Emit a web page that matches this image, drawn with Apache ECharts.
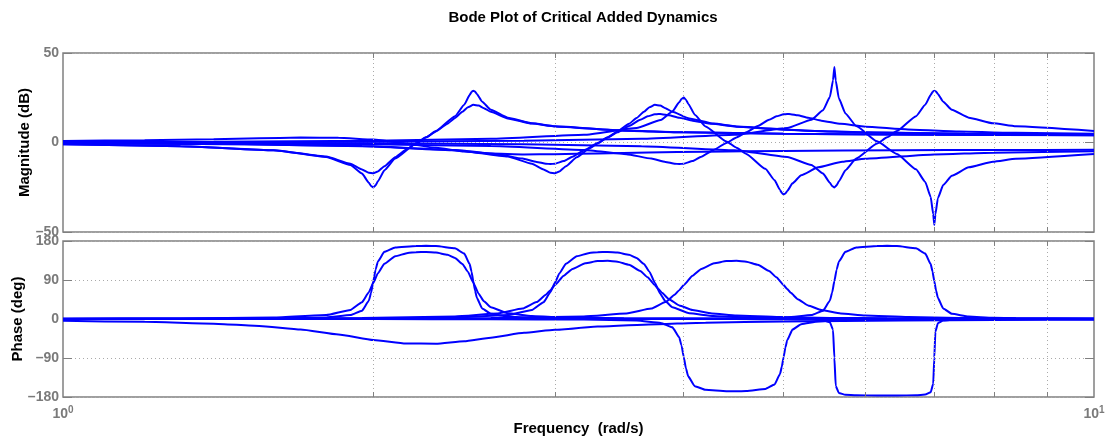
<!DOCTYPE html>
<html><head><meta charset="utf-8">
<script src="https://cdn.jsdelivr.net/npm/echarts@6/dist/echarts.min.js"></script>
<style>html,body{margin:0;padding:0;background:#fff}#c{width:1107px;height:443px}</style>
</head><body><div id="c"></div>
<script>
// ---- data (frequency in rad/s, magnitude in dB, phase in deg) ----
const f1 = [1,1.3,1.6,1.8,1.9,1.95,1.98,1.99,2,2.01,2.02,2.05,2.1,2.2,2.25,2.3,2.4,2.45,2.48,2.49,2.5,2.51,2.52,2.55,2.6,2.7,2.85,3,3.5,4,5,6.5,8,10];
const m1 = [-0.99,-2.03,-4.29,-8.07,-12.57,-17.36,-22.46,-24.33,-25.1,-23.94,-21.71,-15.56,-8.99,-0.58,2.88,6.38,14.73,21.08,26.5,28.18,28.98,28.49,27.15,22.82,18.27,13.88,10.73,9.07,6.64,5.68,4.86,4.4,4.21,4.08];
const p1 = [0.2,0.5,1.3,3.7,9,19.3,42.4,60.9,87.5,113.9,132.4,155.1,165.2,168.6,168.8,168.2,163.1,150.9,126.7,109.7,87.5,65.7,48.9,24.4,12,5.6,2.8,1.7,0.8,0.6,0.3,0.2,0.1,0.1];

const f2 = [1,1.3,1.6,1.8,1.9,1.95,1.98,2,2.02,2.05,2.1,2.16,2.2,2.25,2.3,2.36,2.4,2.44,2.47,2.5,2.53,2.56,2.6,2.7,2.85,3,3.5,4,5,6.67,10];
const m2 = [-0.99,-2.03,-4.26,-7.87,-11.85,-15.07,-16.94,-17.2,-16.17,-13.22,-8.24,-3.34,-0.5,2.87,6.21,10.48,13.68,17.18,19.68,21.08,20.64,19.18,17.11,13.47,10.59,9,6.62,5.67,4.86,4.38,4.08];
const p2 = [0.55,1.2,3.2,9.05,20.8,38.9,62,83.7,105.1,127.5,144.8,152.3,154.3,154.7,153.2,148,140.7,127.1,109.1,83.7,58.5,40.8,27.1,13.3,6.8,4.4,1.7,1,0.55,0.35,0.25];

const f3 = [1,1.2,1.4,1.55,1.7,1.85,2,2.15,2.3,2.45,2.6,2.8,3,3.3,3.7,4.2,5,6.5,8,10];
const m3 = [0.84,1.3,1.87,2.36,2.75,2.68,1.61,-0.5,-2.98,-5,-6.18,-6.68,-6.57,-6.13,-5.6,-5.14,-4.72,-4.34,-4.17,-4.06];
const p3 = [-4.2,-6.6,-10.7,-15.9,-24,-35.5,-48.4,-56.5,-57,-51.4,-43,-32,-25,-17.5,-12.5,-8.5,-5.5,-3.2,-2.2,-1.5];

const f4 = [1,1.5,1.95,2.4,2.7,2.85,2.925,2.97,3,3.03,3.075,3.15,3.24,3.3,3.375,3.45,3.54,3.6,3.66,3.705,3.75,3.795,3.84,3.9,4.05,4.275,4.5,5.25,6,7.5,10];
const m4 = [-0.38,-0.99,-2.03,-4.26,-7.87,-11.85,-15.07,-16.94,-17.2,-16.17,-13.22,-8.24,-3.34,-0.5,2.87,6.21,10.48,13.68,17.18,19.68,21.08,20.64,19.18,17.11,13.47,10.59,9,6.62,5.67,4.86,4.38];
const p4 = [0.25,0.55,1.2,3.2,9.05,20.8,38.9,62,83.7,105.1,127.5,144.8,152.3,154.3,154.7,153.2,148,140.7,127.1,109.1,83.7,58.5,40.8,27.1,13.3,6.8,4.4,1.7,1,0.55,0.35];

const f5 = [1,1.5,1.95,2.4,2.64,2.79,2.88,2.94,2.97,3,3.06,3.12,3.21,3.3,3.375,3.45,3.54,3.63,3.69,3.75,3.78,3.81,3.87,3.96,4.08,4.26,4.5,4.95,5.55,6.3,7.5,10];
const m5 = [-0.38,-0.98,-2,-4.16,-6.52,-8.97,-10.84,-11.85,-12.03,-11.85,-10.36,-7.94,-3.99,-0.22,2.76,5.71,9.26,12.71,14.61,15.73,15.9,15.84,15.24,13.89,12.22,10.41,8.84,7.23,6.14,5.41,4.85,4.38];
const p5 = [0.5,1,2.2,6,12.7,24,39,55.9,66.6,78.2,99.9,115.6,128.5,133.6,134.3,132.1,125,110.9,96.2,78.2,69,60.3,45.8,31.3,20.5,12.7,7.9,4.35,2.56,1.7,1,0.58];

const f6 = [1,1.333,2,2.6,3.2,3.52,3.72,3.84,3.92,3.96,4,4.08,4.16,4.28,4.4,4.5,4.6,4.72,4.84,4.92,5,5.04,5.08,5.16,5.28,5.44,5.68,6,6.6,7.4,8.4,10];
const m6 = [-0.21,-0.38,-0.98,-2,-4.16,-6.52,-8.97,-10.84,-11.85,-12.03,-11.85,-10.36,-7.94,-3.99,-0.22,2.76,5.71,9.26,12.71,14.61,15.73,15.9,15.84,15.24,13.89,12.22,10.41,8.84,7.23,6.14,5.41,4.85];
const p6 = [0.3,0.5,1,2.2,6,12.7,24,39,55.9,66.6,78.2,99.9,115.6,128.5,133.6,134.3,132.1,125,110.9,96.2,78.2,69,60.3,45.8,31.3,20.5,12.7,7.9,4.35,2.56,1.7,1];

const f7 = [1,1.4,2,2.6,3.2,3.6,3.8,3.9,3.96,3.98,4,4.02,4.04,4.1,4.2,4.4,4.5,4.6,4.8,4.9,4.96,4.98,5,5.02,5.04,5.1,5.2,5.4,5.7,6,7,8,10];
const m7 = [0.21,0.43,0.99,2.03,4.29,8.07,12.57,17.36,22.46,24.33,25.1,23.94,21.71,15.56,8.99,0.58,-2.88,-6.38,-14.73,-21.08,-26.5,-28.18,-28.98,-28.49,-27.15,-22.82,-18.27,-13.88,-10.73,-9.07,-6.64,-5.68,-4.86];
const p7 = [-0.1,-0.15,-0.2,-0.5,-1.3,-3.7,-9,-19.3,-42.4,-60.9,-87.5,-113.9,-132.4,-155.1,-163.5,-166.5,-166.8,-166.3,-161.5,-150.9,-126.7,-109.7,-87.5,-65.7,-48.9,-24.4,-12,-5.6,-2.8,-1.7,-0.8,-0.6,-0.3];

const f8 = [1,1.4,1.96,2.8,3.64,4.48,5.04,5.32,5.46,5.544,5.572,5.6,5.628,5.656,5.74,5.88,6.16,6.3,6.44,6.72,6.86,6.944,6.972,7,7.028,7.056,7.14,7.28,7.56,7.98,8.4,10];
const m8 = [-0.1,-0.21,-0.43,-0.99,-2.03,-4.29,-8.07,-12.57,-17.36,-22.46,-24.33,-25.1,-23.94,-21.71,-15.56,-8.99,-0.58,2.88,6.38,14.73,21.08,26.5,28.18,28.98,28.49,27.15,22.82,18.27,13.88,10.73,9.07,6.46];
const p8 = [0.05,0.1,0.15,0.2,0.5,1.3,3.7,9,19.3,42.4,60.9,87.5,113.9,132.4,155.1,165.2,168.6,168.8,168.2,163.1,150.9,126.7,109.7,87.5,65.7,48.9,24.4,12,5.6,2.8,1.7,0.8];

const f9 = [1,1.4,1.96,2.8,3.64,4.48,5.04,5.32,5.46,5.544,5.583,5.6,5.617,5.656,5.74,5.88,6.16,6.44,6.72,6.86,6.944,6.983,7,7.017,7.056,7.14,7.28,7.56,7.98,8.4,10];
const m9 = [0.1,0.21,0.43,0.99,2.03,4.29,8.07,12.73,17.98,25.37,34.82,42.2,34.59,24.66,16.22,9.17,0.63,-6.44,-14.98,-22.02,-30.43,-40.01,-46.06,-40.21,-31.13,-23.8,-18.55,-13.88,-10.73,-9.07,-6.46];
const p9 = [0,-0.05,-0.1,-0.1,-0.15,-0.2,-0.6,-1.3,-2.8,-7.6,-24.6,-89.6,-154.6,-170.5,-175,-176,-176.5,-176.5,-176,-174.5,-169,-149.4,-89.6,-29.9,-9.6,-3.7,-1.7,-0.8,-0.5,-0.3,-0.1];

const gridFreqs = [2,3,4,5,6,7,8,9];
const magTicks = [-50, 0, 50];
const phaseTicks = [-180, -90, 0, 90, 180];
const decadeLabels = {1: '0', 10: '1'};

const titleText = 'Bode Plot of Critical Added Dynamics';
const magName = 'Magnitude (dB)';
const phaseName = 'Phase (deg)';
const freqName = 'Frequency  (rad/s)';

// ---- chart ----
const FONT = '"Liberation Sans", Arial, Helvetica, sans-serif';
const LABEL_GRAY = '#7a7a7a';
const BLUE = '#0000ff';
const GRID_GRAY = '#aaaaaa';
const curves = [[f1,m1,p1],[f2,m2,p2],[f3,m3,p3],[f4,m4,p4],[f5,m5,p5],[f6,m6,p6],[f7,m7,p7],[f8,m8,p8],[f9,m9,p9]];
const minus = v => String(v).replace('-', '\u2013');

const series = [];
// vertical dotted grid lines at 2..9 rad/s, plus short inner ticks on the top and bottom frame
[0,1].forEach(g => {
  const yr = g === 0 ? [magTicks[0], magTicks[2]] : [phaseTicks[0], phaseTicks[4]];
  const tl = (yr[1] - yr[0]) * (g === 0 ? 0.028 : 0.032);
  series.push({
    type: 'line', xAxisIndex: g, yAxisIndex: g, data: [], z: 1, silent: true,
    markLine: {
      silent: true, symbol: ['none','none'], label: {show: false}, animation: false,
      lineStyle: {color: GRID_GRAY, type: [1, 3], width: 1},
      data: gridFreqs.map(v => ({xAxis: v}))
    }
  });
  series.push({
    type: 'line', xAxisIndex: g, yAxisIndex: g, data: [], z: 2, silent: true,
    markLine: {
      silent: true, symbol: ['none','none'], label: {show: false}, animation: false,
      lineStyle: {color: '#808080', type: 'solid', width: 1},
      data: gridFreqs.flatMap(v => [
        [{coord: [v, yr[0]]}, {coord: [v, yr[0] + tl]}],
        [{coord: [v, yr[1]]}, {coord: [v, yr[1] - tl]}]
      ])
    }
  });
});
curves.forEach(([f, m, p]) => {
  series.push({type: 'line', xAxisIndex: 0, yAxisIndex: 0, showSymbol: false, silent: true, z: 3,
    smooth: 0.15, smoothMonotone: 'x',
    lineStyle: {color: BLUE, width: 2}, data: f.map((x, i) => [x, m[i]])});
  series.push({type: 'line', xAxisIndex: 1, yAxisIndex: 1, showSymbol: false, silent: true, z: 3,
    smooth: 0.15, smoothMonotone: 'x',
    lineStyle: {color: BLUE, width: 2}, data: f.map((x, i) => [x, p[i]])});
});

const yBase = (min, max, interval, name, nameGap, gridIndex) => ({
  type: 'value', gridIndex, min, max, interval,
  axisLine: {show: false},
  axisTick: {show: true, inside: true, length: 9, lineStyle: {color: '#808080', width: 1}},
  axisLabel: {color: LABEL_GRAY, fontWeight: 'bold', fontSize: 14, fontFamily: FONT, margin: 4, formatter: minus},
  splitLine: {show: true, lineStyle: {color: GRID_GRAY, type: [1, 3], width: 1}},
  name, nameLocation: 'middle', nameGap, nameRotate: 90, nameMoveOverlap: false,
  nameTextStyle: {color: '#000', fontWeight: 'bold', fontSize: 15, fontFamily: FONT}
});
const yRight = (min, max, interval, gridIndex) => ({
  type: 'value', gridIndex, min, max, interval, position: 'right',
  axisLine: {show: false}, axisLabel: {show: false}, splitLine: {show: false},
  axisTick: {show: true, inside: true, length: 9, lineStyle: {color: '#808080', width: 1}}
});

const gridCommon = {show: true, borderColor: '#808080', borderWidth: 1.5, backgroundColor: 'transparent',
  containLabel: false, outerBoundsMode: 'none'};
const option = {
  animation: false,
  backgroundColor: '#fff',
  title: {text: titleText, left: 578, top: 5, textAlign: 'center',
    textStyle: {color: '#000', fontWeight: 'bold', fontSize: 15, fontFamily: FONT}},
  grid: [
    Object.assign({left: 63, top: 53, width: 1031, height: 179}, gridCommon),
    Object.assign({left: 63, top: 241, width: 1031, height: 156}, gridCommon)
  ],
  xAxis: [
    {type: 'log', logBase: 10, min: 1, max: 10, gridIndex: 0,
      axisLine: {show: false}, axisTick: {show: false}, axisLabel: {show: false}, splitLine: {show: false}},
    {type: 'log', logBase: 10, min: 1, max: 10, gridIndex: 1,
      axisLine: {show: false}, axisTick: {show: false}, splitLine: {show: false},
      axisLabel: {margin: 8, formatter: v => '{b|10}{s|' + (decadeLabels[v] ?? '') + '}',
        rich: {
          b: {color: LABEL_GRAY, fontWeight: 'bold', fontSize: 14, fontFamily: FONT, lineHeight: 18},
          s: {color: LABEL_GRAY, fontWeight: 'bold', fontSize: 10, fontFamily: FONT, verticalAlign: 'top', lineHeight: 10}
        }},
      name: freqName, nameLocation: 'middle', nameGap: 24, nameMoveOverlap: false,
      nameTextStyle: {color: '#000', fontWeight: 'bold', fontSize: 15, fontFamily: FONT}}
  ],
  yAxis: [
    yBase(magTicks[0], magTicks[2], magTicks[2] - magTicks[1], magName, 31, 0),
    yBase(phaseTicks[0], phaseTicks[4], phaseTicks[3] - phaseTicks[2], phaseName, 38, 1),
    yRight(magTicks[0], magTicks[2], magTicks[2] - magTicks[1], 0),
    yRight(phaseTicks[0], phaseTicks[4], phaseTicks[3] - phaseTicks[2], 1)
  ],
  series
};
const chart = echarts.init(document.getElementById('c'), null, {renderer: 'canvas'});
chart.setOption(option);
</script>
</body></html>
